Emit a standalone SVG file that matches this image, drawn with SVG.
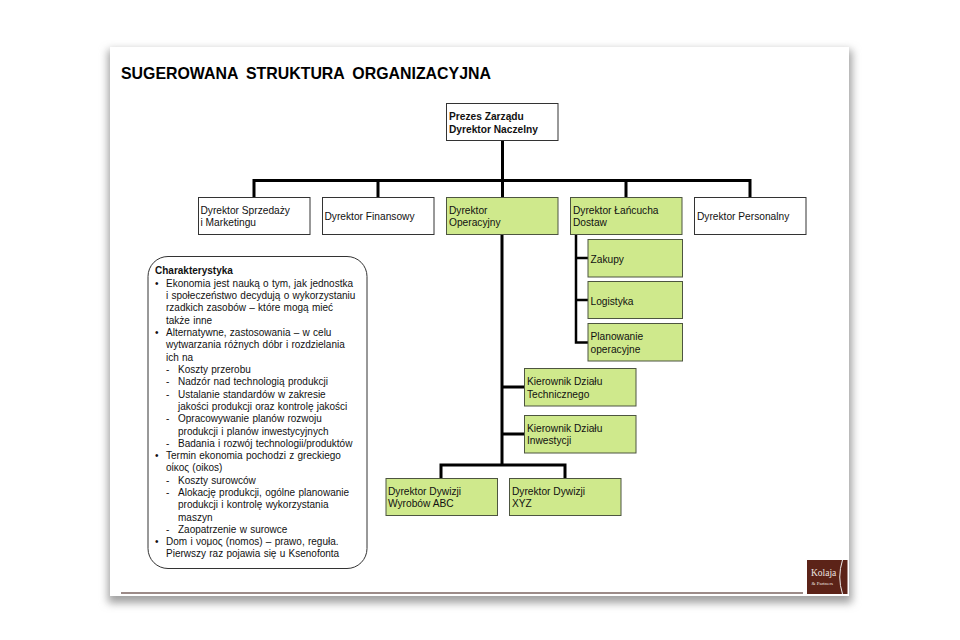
<svg xmlns="http://www.w3.org/2000/svg" width="960" height="640" viewBox="0 0 960 640">
<defs><filter id="s" x="-5%" y="-5%" width="110%" height="110%"><feGaussianBlur stdDeviation="4"/></filter></defs>
<style>text{font-family:"Liberation Sans",Arial,sans-serif;font-size:10.2px;fill:#111}.h{font-weight:bold}.b{fill:#fff;stroke:#333;stroke-width:1}.g{fill:#cfe98c;stroke:#4d5540;stroke-width:1}.c{fill:none;stroke:#000;stroke-width:3}.l{font-size:10px;word-spacing:.5px}</style>
<rect width="960" height="640" fill="#fff"/>
<rect x="108" y="50" width="744" height="553" fill="#a0a0a0" filter="url(#s)"/>
<rect x="110" y="47" width="739" height="549" fill="#fff"/>
<text x="121" y="78.500" style="font-size:15.900px;font-weight:bold;word-spacing:3.700px;fill:#000">SUGEROWANA STRUKTURA ORGANIZACYJNA</text>
<g id="connectors"><path class="c" d="M502.500 140V197M254 197V180.500H750V197M378 180.500V197M626 180.500V197M502 235V465M502 387H525M502 434H525M441 478V465H565V478"/><path class="c" style="stroke-width:2.500" d="M576 235V342.500H588M576 258H588M576 300H588"/></g>
<g id="n1"><rect class="b" x="446.500" y="103.500" width="111.500" height="37"/><text class="h" x="449" y="120">Prezes Zarządu</text><text class="h" x="449" y="132.500">Dyrektor Naczelny</text></g>
<g id="n2"><rect class="b" x="198.500" y="197.500" width="111.500" height="37"/><text x="200.500" y="213.500">Dyrektor Sprzedaży</text><text x="200.500" y="226">i Marketingu</text></g>
<g id="n3"><rect class="b" x="322.500" y="197.500" width="111.500" height="37"/><text x="324.500" y="219.500">Dyrektor Finansowy</text></g>
<g id="n4"><rect class="g" x="446.500" y="197.500" width="111.500" height="37"/><text x="449" y="213.500">Dyrektor</text><text x="449" y="226">Operacyjny</text></g>
<g id="n5"><rect class="g" x="570.500" y="197.500" width="111.500" height="37"/><text x="573" y="213.500">Dyrektor Łańcucha</text><text x="573" y="226">Dostaw</text></g>
<g id="n6"><rect class="b" x="694.500" y="197.500" width="111.500" height="37"/><text x="697" y="219.500">Dyrektor Personalny</text></g>
<g id="n7"><rect class="g" x="588" y="239.500" width="94.500" height="37.500"/><text x="590.500" y="262.500">Zakupy</text></g>
<g id="n8"><rect class="g" x="588" y="281.500" width="94.500" height="37"/><text x="590.500" y="304.500">Logistyka</text></g>
<g id="n9"><rect class="g" x="588" y="323.500" width="94.500" height="37.500"/><text x="590.500" y="340">Planowanie</text><text x="590.500" y="352.500">operacyjne</text></g>
<g id="n10"><rect class="g" x="524.500" y="368.500" width="111.500" height="37.500"/><text x="527" y="385">Kierownik Działu</text><text x="527" y="397.500">Technicznego</text></g>
<g id="n11"><rect class="g" x="524.500" y="415.500" width="111.500" height="37.500"/><text x="527" y="431.500">Kierownik Działu</text><text x="527" y="444">Inwestycji</text></g>
<g id="n12"><rect class="g" x="386" y="478.500" width="111.500" height="37"/><text x="388" y="494.500">Dyrektor Dywizji</text><text x="388" y="507">Wyrobów ABC</text></g>
<g id="n13"><rect class="g" x="509.500" y="478.500" width="111.500" height="37"/><text x="512" y="494.500">Dyrektor Dywizji</text><text x="512" y="507">XYZ</text></g>
<g id="info"><rect x="148" y="256.500" width="219" height="312" rx="20" fill="#fff" stroke="#333"/>
<text class="l h" x="155" y="274">Charakterystyka</text>
<text class="l" x="155" y="287">•</text><text class="l" x="166" y="287">Ekonomia jest nauką o tym, jak jednostka</text>
<text class="l" x="166" y="299">i społeczeństwo decydują o wykorzystaniu</text>
<text class="l" x="166" y="311">rzadkich zasobów – które mogą mieć</text>
<text class="l" x="166" y="323.500">także inne</text>
<text class="l" x="155" y="336">•</text><text class="l" x="166" y="336">Alternatywne, zastosowania – w celu</text>
<text class="l" x="166" y="348">wytwarzania różnych dóbr i rozdzielania</text>
<text class="l" x="166" y="360.500">ich na</text>
<text class="l" x="166" y="373">-</text><text class="l" x="178" y="373">Koszty przerobu</text>
<text class="l" x="166" y="385">-</text><text class="l" x="178" y="385">Nadzór nad technologią produkcji</text>
<text class="l" x="166" y="397.500">-</text><text class="l" x="178" y="397.500">Ustalanie standardów w zakresie</text>
<text class="l" x="178" y="410">jakości produkcji oraz kontrolę jakości</text>
<text class="l" x="166" y="422">-</text><text class="l" x="178" y="422">Opracowywanie planów rozwoju</text>
<text class="l" x="178" y="434.500">produkcji i planów inwestycyjnych</text>
<text class="l" x="166" y="446.500">-</text><text class="l" x="178" y="446.500">Badania i rozwój technologii/produktów</text>
<text class="l" x="155" y="459">•</text><text class="l" x="166" y="459">Termin ekonomia pochodzi z greckiego</text>
<text class="l" x="166" y="471">oίκος (oikos)</text>
<text class="l" x="166" y="483.500">-</text><text class="l" x="178" y="483.500">Koszty surowców</text>
<text class="l" x="166" y="496">-</text><text class="l" x="178" y="496">Alokację produkcji, ogólne planowanie</text>
<text class="l" x="178" y="508">produkcji i kontrolę wykorzystania</text>
<text class="l" x="178" y="520.500">maszyn</text>
<text class="l" x="166" y="532.500">-</text><text class="l" x="178" y="532.500">Zaopatrzenie w surowce</text>
<text class="l" x="155" y="545">•</text><text class="l" x="166" y="545">Dom i νομος (nomos) – prawo, reguła.</text>
<text class="l" x="166" y="557">Pierwszy raz pojawia się u Ksenofonta</text>
</g>
<path d="M121 593H803" stroke="#7b6560" stroke-width="1.500" fill="none"/>
<g id="logo"><rect x="807" y="560" width="40.500" height="34" fill="#5c2318"/><text x="811" y="575.500" style="fill:#eee5e0;font-size:9.500px;font-family:'Liberation Serif',serif">Kolaja</text><text x="811.500" y="585" style="fill:#eee5e0;font-size:5px;font-family:'Liberation Serif',serif">&amp; Partners</text><path d="M842.500 560Q837 577 842.500 594" stroke="#eee" fill="none"/></g>
</svg>
